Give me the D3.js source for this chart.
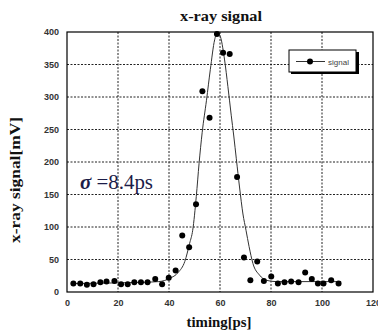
<!DOCTYPE html>
<html>
<head>
<meta charset="utf-8">
<script src="https://cdn.jsdelivr.net/npm/d3@7"></script>
<style>
  body { margin: 0; background: #fff; }
  svg { display: block; }
</style>
</head>
<body>
<div id="chart"></div>
<script>
//////////////////////////////////////////////////////////////////////////////
// Data

// measured points: timing [ps], signal [mV]
var timing = [2.5, 5.2, 7.8, 10.4, 13.1, 15.5, 18.6, 21.2, 23.8, 26.4, 29.0, 31.6,
              34.6, 37.3, 39.9, 42.6, 45.2, 47.9, 50.6, 53.1, 55.9, 58.8, 61.2, 63.8,
              66.7, 69.4, 71.9, 74.6, 77.2, 80.1, 82.7, 85.3, 87.9, 90.8, 93.4, 96.0,
              98.4, 100.6, 103.6, 106.5];
var signal = [13, 13, 11, 12, 15, 16, 17, 12, 12, 15, 15, 15,
              20, 12, 22, 33, 87, 69, 135, 309, 268, 397, 368, 366,
              177, 53, 18, 47, 17, 24, 13, 15, 16, 15, 30, 20,
              13, 13, 18, 13];

// fitted curve
var fitT = [2.5, 20, 30, 36, 40.3, 43.6, 46.2, 48.1, 49.3, 50.7, 51.8, 53.0, 54.7,
            56.2, 57.9, 58.8, 59.9, 61.8, 63.1, 64.4, 65.4, 66.4, 67.7, 69.0, 70.2,
            71.4, 72.9, 75.5, 78.2, 82, 90, 100, 107.5];
var fitV = [13, 14, 15, 16, 21, 30, 47, 75, 95, 147, 198, 245, 295,
            342, 388, 398, 395, 357, 316, 272, 240, 205, 160, 120, 95,
            70, 44, 26, 18, 16, 16, 16, 16];

var xTicks = [0, 20, 40, 60, 80, 100, 120];
var yTicks = [0, 50, 100, 150, 200, 250, 300, 350, 400];

var chartTitle = "x-ray signal";
var xTitle = "timing[ps]";
var yTitle = "x-ray signal[mV]";
var sigmaNote = "=8.4ps";
var legendLabel = "signal";

//////////////////////////////////////////////////////////////////////////////
// Layout

var width = 378, height = 330;
var plot = { left: 67, right: 373, top: 32, bottom: 292 };

var xScale = d3.scaleLinear().domain([0, 120]).range([plot.left, plot.right]);
var yScale = d3.scaleLinear().domain([0, 400]).range([plot.bottom, plot.top]);

var svg = d3.select("#chart")
    .append("svg")
    .attr("width", width)
    .attr("height", height);

var serif = "'Liberation Serif', 'Times New Roman', serif";
var tickFont = "'Liberation Sans', Arial, sans-serif";

// dotted grid
svg.append("g")
    .selectAll("line")
    .data(xTicks.slice(1, -1))
    .enter()
    .append("line")
    .attr("x1", function(d) { return xScale(d); })
    .attr("x2", function(d) { return xScale(d); })
    .attr("y1", plot.top)
    .attr("y2", plot.bottom)
    .attr("stroke", "#222")
    .attr("stroke-width", 1)
    .attr("stroke-dasharray", "2,1.5");

svg.append("g")
    .selectAll("line")
    .data(yTicks.slice(1, -1))
    .enter()
    .append("line")
    .attr("x1", plot.left)
    .attr("x2", plot.right)
    .attr("y1", function(d) { return yScale(d); })
    .attr("y2", function(d) { return yScale(d); })
    .attr("stroke", "#222")
    .attr("stroke-width", 1)
    .attr("stroke-dasharray", "2,1.5");

// plot frame
svg.append("rect")
    .attr("x", plot.left)
    .attr("y", plot.top)
    .attr("width", plot.right - plot.left)
    .attr("height", plot.bottom - plot.top)
    .attr("fill", "none")
    .attr("stroke", "#000")
    .attr("stroke-width", 1.2);

// axes: only labels, no domain line or ticks
var xAxis = svg.append("g")
    .attr("transform", "translate(0," + (plot.bottom + 5) + ")")
    .call(d3.axisBottom(xScale).tickValues(xTicks).tickSize(0).tickPadding(3));
var yAxis = svg.append("g")
    .attr("transform", "translate(" + (plot.left - 7) + ",0)")
    .call(d3.axisLeft(yScale).tickValues(yTicks).tickSize(0).tickPadding(1));

[xAxis, yAxis].forEach(function(ax) {
    ax.select(".domain").remove();
    ax.selectAll("text")
        .attr("font-family", tickFont)
        .attr("font-weight", "bold")
        .attr("font-size", 9)
        .attr("fill", "#333");
});

// fitted curve
var line = d3.line()
    .x(function(d, i) { return xScale(fitT[i]); })
    .y(function(d) { return yScale(d); })
    .curve(d3.curveMonotoneX);

svg.append("path")
    .attr("d", line(fitV))
    .attr("fill", "none")
    .attr("stroke", "#333")
    .attr("stroke-width", 1);

// measured points
svg.append("g")
    .selectAll("circle")
    .data(signal)
    .enter()
    .append("circle")
    .attr("cx", function(d, i) { return xScale(timing[i]); })
    .attr("cy", function(d) { return yScale(d); })
    .attr("r", 3)
    .attr("fill", "#000");

// legend with drop shadow
var lg = svg.append("g").attr("transform", "translate(289,50)");
lg.append("rect")
    .attr("x", 2).attr("y", 2)
    .attr("width", 68).attr("height", 22)
    .attr("fill", "#000");
lg.append("rect")
    .attr("x", 0).attr("y", 0)
    .attr("width", 67).attr("height", 22)
    .attr("fill", "#fff")
    .attr("stroke", "#000")
    .attr("stroke-width", 1);
lg.append("line")
    .attr("x1", 7).attr("x2", 36)
    .attr("y1", 11.5).attr("y2", 11.5)
    .attr("stroke", "#333");
lg.append("circle")
    .attr("cx", 21).attr("cy", 11.5).attr("r", 3)
    .attr("fill", "#000");
lg.append("text")
    .attr("x", 39).attr("y", 14.5)
    .attr("font-family", tickFont)
    .attr("font-size", 8)
    .attr("fill", "#444")
    .text(legendLabel);

// titles
svg.append("text")
    .attr("x", 221).attr("y", 21)
    .attr("text-anchor", "middle")
    .attr("font-family", serif)
    .attr("font-weight", "bold")
    .attr("font-size", 14)
    .attr("textLength", 82)
    .attr("lengthAdjust", "spacingAndGlyphs")
    .attr("fill", "#111")
    .text(chartTitle);

svg.append("text")
    .attr("x", 219).attr("y", 327)
    .attr("text-anchor", "middle")
    .attr("font-family", serif)
    .attr("font-weight", "bold")
    .attr("font-size", 14)
    .attr("textLength", 65)
    .attr("lengthAdjust", "spacingAndGlyphs")
    .attr("fill", "#111")
    .text(xTitle);

svg.append("text")
    .attr("transform", "translate(20,180) rotate(-90)")
    .attr("text-anchor", "middle")
    .attr("font-family", serif)
    .attr("font-weight", "bold")
    .attr("font-size", 14)
    .attr("textLength", 126)
    .attr("lengthAdjust", "spacingAndGlyphs")
    .attr("fill", "#111")
    .text(yTitle);

// sigma annotation
var note = svg.append("text")
    .attr("x", 80).attr("y", 189)
    .attr("font-family", serif)
    .attr("font-size", 20)
    .attr("textLength", 73)
    .attr("lengthAdjust", "spacingAndGlyphs")
    .attr("fill", "#1c1c48");
note.append("tspan")
    .attr("font-style", "italic")
    .attr("font-weight", "bold")
    .text("σ");
note.append("tspan").text(" " + sigmaNote);
</script>
</body>
</html>
